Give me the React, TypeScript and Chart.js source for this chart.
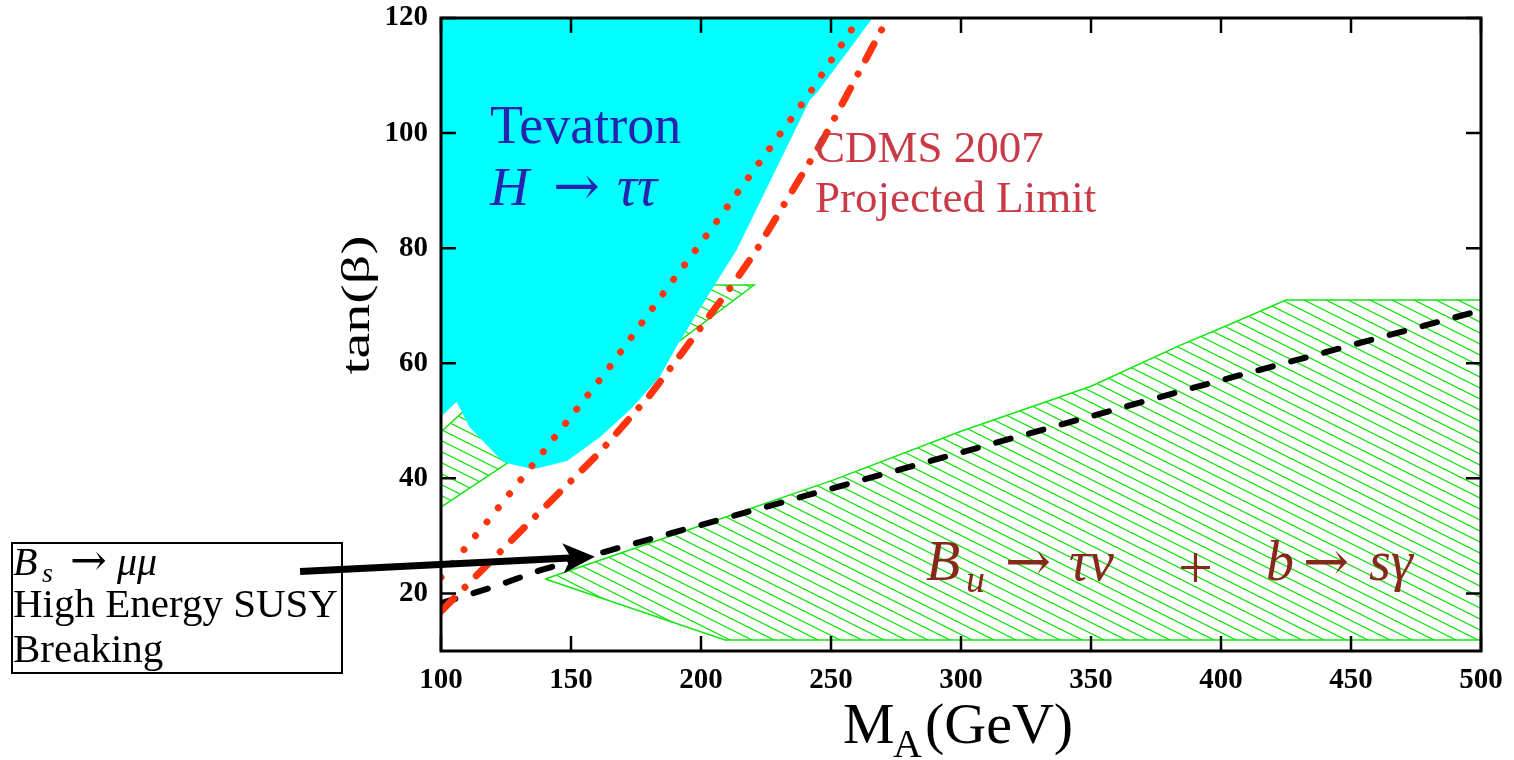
import { useEffect, useRef } from "react";
import { Chart, registerables } from "chart.js";

Chart.register(...registerables);

// Axis ticks
const xTicks = [100, 150, 200, 250, 300, 350, 400, 450, 500];
const yTicks = [20, 40, 60, 80, 100, 120];

// Tevatron H -> tau tau excluded region (closed outline)
const tevX = [100, 266, 244.6, 241.9, 213.7, 206.5, 190.6, 184.2, 173.8, 161.2, 148.5, 135.4, 124, 111, 106, 100, 100];
const tevY = [120, 120, 107.0, 105.8, 79.7, 74.5, 62.9, 57.7, 52.4, 47.2, 43.0, 41.6, 42.8, 48.9, 53.3, 50.7, 120];

// Bu -> tau nu + b -> s gamma allowed band (closed outline)
const buX = [140.1, 200, 250.8, 300, 350, 384.2, 404.6, 425, 500, 500, 209.2, 140.1];
const buY = [22.5, 31.8, 39.7, 48.2, 56.0, 63.1, 67.0, 71.0, 71.0, 11.9, 11.9, 22.5];

// Small low-mass patch of the same band
const patchLeftX = [100, 100, 111, 130, 100];
const patchLeftY = [35.0, 48.1, 52.6, 44.0, 35.0];

// Small patch near M_A = 200 GeV
const patchMidX = [185, 200, 220.4, 185];
const patchMidY = [61.6, 73.6, 73.6, 61.6];

// CDMS 2007 projected limit (dotted)
const cdmsDotX = [100, 117.6, 139.1, 164.3, 188.5, 200.8, 240.8, 260, 260.5];
const cdmsDotY = [22.8, 32.4, 44.5, 59.0, 74.0, 81.4, 106.3, 119.4, 120];

// CDMS 2007 projected limit (dash-dot)
const cdmsDashDotX = [100, 133, 161.2, 180.4, 193, 212.4, 221.4, 246.9, 271.5, 271.9];
const cdmsDashDotY = [16.9, 31.9, 44.6, 54.5, 62.0, 73.8, 79.7, 98.8, 119.7, 120];

// Bs -> mu mu, high energy SUSY breaking (dashed)
const bsX = [100, 120, 138, 165, 389, 500];
const bsY = [18.3, 21.1, 24.0, 27.5, 55.7, 69.2];

// Pointer from the annotation box to the dashed curve
const arrowX = [45.8, 159.2];
const arrowY = [23.8, 26.4];

const SERIF = "'Liberation Serif', 'Times New Roman', serif";
const ARROWFONT = "'DejaVu Serif', 'DejaVu Sans', serif";
const GREEN = "rgb(20,228,20)";
const RED = "rgb(255,52,14)";

const pts = (xs: number[], ys: number[]) => xs.map((x, i) => ({ x, y: ys[i] }));

function makeHatch(): CanvasPattern | string {
  const tile = document.createElement("canvas");
  tile.width = 22;
  tile.height = 11;
  const c = tile.getContext("2d");
  if (!c) return GREEN;
  c.strokeStyle = GREEN;
  c.lineWidth = 1.2;
  for (let k = -2; k <= 2; k++) {
    c.beginPath();
    c.moveTo(-4, -2 + k * 11);
    c.lineTo(26, 13 + k * 11);
    c.stroke();
  }
  const p = c.createPattern(tile, "repeat");
  return p || GREEN;
}

type Run = { t: string; x: number; y: number; font: string };

function drawRuns(ctx: CanvasRenderingContext2D, runs: Run[], color: string) {
  ctx.save();
  ctx.fillStyle = color;
  ctx.textAlign = "left";
  ctx.textBaseline = "alphabetic";
  for (const r of runs) {
    ctx.font = r.font;
    ctx.fillText(r.t, r.x, r.y);
  }
  ctx.restore();
}

const decor = {
  id: "decor",
  afterDatasetsDraw(chart: any) {
    const ctx: CanvasRenderingContext2D = chart.ctx;
    drawRuns(
      ctx,
      [
        { t: "Tevatron", x: 490, y: 143, font: `54px ${SERIF}` },
        { t: "H", x: 490, y: 205, font: `italic 54px ${SERIF}` },
        { t: "→", x: 553, y: 205, font: `56px ${ARROWFONT}` },
        { t: "ττ", x: 617, y: 205, font: `italic 56px ${SERIF}` },
      ],
      "#2424b0"
    );
    drawRuns(
      ctx,
      [
        { t: "CDMS 2007", x: 815, y: 162, font: `45px ${SERIF}` },
        { t: "Projected Limit", x: 815, y: 212, font: `45px ${SERIF}` },
      ],
      "#c93a46"
    );
    drawRuns(
      ctx,
      [
        { t: "B", x: 926, y: 580, font: `italic 56px ${SERIF}` },
        { t: "u", x: 966, y: 592, font: `italic 38px ${SERIF}` },
        { t: "→", x: 1005, y: 580, font: `55px ${ARROWFONT}` },
        { t: "τν", x: 1069, y: 580, font: `italic 56px ${SERIF}` },
        { t: "+", x: 1178, y: 588, font: `62px ${SERIF}` },
        { t: "b", x: 1266, y: 580, font: `italic 56px ${SERIF}` },
        { t: "→", x: 1303, y: 580, font: `55px ${ARROWFONT}` },
        { t: "sγ", x: 1369, y: 580, font: `italic 56px ${SERIF}` },
      ],
      "#86281a"
    );
  },
  afterDraw(chart: any) {
    const ctx: CanvasRenderingContext2D = chart.ctx;
    const { left, right, top, bottom } = chart.chartArea;
    const xs = chart.scales.x;
    const ys = chart.scales.y;

    // frame and inward ticks on all four sides
    ctx.save();
    ctx.strokeStyle = "#000";
    ctx.lineWidth = 2.5;
    ctx.beginPath();
    for (const v of xTicks) {
      const px = xs.getPixelForValue(v);
      ctx.moveTo(px, bottom);
      ctx.lineTo(px, bottom - 15);
      ctx.moveTo(px, top);
      ctx.lineTo(px, top + 15);
    }
    for (const v of yTicks) {
      const py = ys.getPixelForValue(v);
      ctx.moveTo(left, py);
      ctx.lineTo(left + 15, py);
      ctx.moveTo(right, py);
      ctx.lineTo(right - 15, py);
    }
    ctx.stroke();
    ctx.lineWidth = 3;
    ctx.strokeRect(left, top, right - left, bottom - top);
    ctx.restore();

    // axis titles
    ctx.save();
    ctx.fillStyle = "#000";
    ctx.textBaseline = "alphabetic";
    ctx.textAlign = "center";
    ctx.translate(369, 305);
    ctx.rotate(-Math.PI / 2);
    ctx.scale(1.45, 1);
    ctx.font = `40px ${SERIF}`;
    ctx.fillText("tan(β)", 0, 0);
    ctx.restore();
    drawRuns(
      ctx,
      [
        { t: "M", x: 843, y: 743, font: `58px ${SERIF}` },
        { t: "A", x: 893, y: 757, font: `40px ${SERIF}` },
        { t: "(GeV)", x: 925, y: 743, font: `58px ${SERIF}` },
      ],
      "#000"
    );

    // annotation box
    ctx.save();
    ctx.fillStyle = "#fff";
    ctx.fillRect(12, 543, 330, 130);
    ctx.strokeStyle = "#000";
    ctx.lineWidth = 2;
    ctx.strokeRect(12, 543, 330, 130);
    ctx.restore();
    drawRuns(
      ctx,
      [
        { t: "B", x: 13, y: 575, font: `italic 40px ${SERIF}` },
        { t: "s", x: 42, y: 582, font: `italic 28px ${SERIF}` },
        { t: "→", x: 70, y: 575, font: `44px ${ARROWFONT}` },
        { t: "μμ", x: 117, y: 575, font: `italic 40px ${SERIF}` },
        { t: "High Energy SUSY", x: 13, y: 617, font: `41px ${SERIF}` },
        { t: "Breaking", x: 13, y: 662, font: `41px ${SERIF}` },
      ],
      "#000"
    );

    // pointer arrow
    const x0 = xs.getPixelForValue(arrowX[0]);
    const y0 = ys.getPixelForValue(arrowY[0]);
    const x1 = xs.getPixelForValue(arrowX[1]);
    const y1 = ys.getPixelForValue(arrowY[1]);
    const ang = Math.atan2(y1 - y0, x1 - x0);
    const ux = Math.cos(ang);
    const uy = Math.sin(ang);
    const headLen = 32;
    const halfW = 15;
    const bx = x1 - ux * headLen;
    const by = y1 - uy * headLen;
    ctx.save();
    ctx.strokeStyle = "#000";
    ctx.fillStyle = "#000";
    ctx.lineWidth = 7;
    ctx.beginPath();
    ctx.moveTo(x0, y0);
    ctx.lineTo(x1 - ux * 20, y1 - uy * 20);
    ctx.stroke();
    ctx.beginPath();
    ctx.moveTo(x1, y1);
    ctx.lineTo(bx - uy * halfW, by + ux * halfW);
    ctx.lineTo(x1 - ux * 24, y1 - uy * 24);
    ctx.lineTo(bx + uy * halfW, by - ux * halfW);
    ctx.closePath();
    ctx.fill();
    ctx.restore();
  },
};

export default function App() {
  const ref = useRef<HTMLCanvasElement | null>(null);

  useEffect(() => {
    const canvas = ref.current;
    if (!canvas) return;
    const hatch = makeHatch();
    const tickFont = { family: SERIF, size: 29, weight: "bold" as const };

    const chart = new Chart(canvas, {
      type: "line",
      data: {
        datasets: [
          {
            label: "Bu",
            data: pts(buX, buY),
            fill: "shape",
            backgroundColor: hatch as any,
            borderColor: GREEN,
            borderWidth: 1.5,
            order: 6,
          },
          {
            label: "patch-left",
            data: pts(patchLeftX, patchLeftY),
            fill: "shape",
            backgroundColor: hatch as any,
            borderColor: GREEN,
            borderWidth: 1.5,
            order: 5,
          },
          {
            label: "patch-mid",
            data: pts(patchMidX, patchMidY),
            fill: "shape",
            backgroundColor: hatch as any,
            borderColor: GREEN,
            borderWidth: 1.5,
            order: 5,
          },
          {
            label: "Tevatron",
            data: pts(tevX, tevY),
            fill: "shape",
            backgroundColor: "#00ffff",
            borderColor: "#00ffff",
            borderWidth: 0,
            order: 4,
          },
          {
            label: "Bs",
            data: pts(bsX, bsY),
            fill: false,
            borderColor: "#000",
            borderWidth: 6,
            borderDash: [15, 19],
            borderCapStyle: "round",
            order: 3,
          },
          {
            label: "CDMS dash-dot",
            data: pts(cdmsDashDotX, cdmsDashDotY),
            fill: false,
            borderColor: RED,
            borderWidth: 7,
            borderDash: [18, 16, 0.01, 16],
            borderCapStyle: "round",
            order: 2,
          },
          {
            label: "CDMS dotted",
            data: pts(cdmsDotX, cdmsDotY),
            fill: false,
            borderColor: RED,
            borderWidth: 7,
            borderDash: [0.01, 18],
            borderCapStyle: "round",
            order: 1,
          },
        ],
      },
      options: {
        animation: false,
        responsive: false,
        devicePixelRatio: 1,
        layout: { padding: { left: 0, right: 33, top: 18, bottom: 0 } },
        elements: { point: { radius: 0, hoverRadius: 0 }, line: { tension: 0 } },
        plugins: { legend: { display: false }, tooltip: { enabled: false } },
        events: [],
        scales: {
          x: {
            type: "linear",
            min: 100,
            max: 500,
            afterBuildTicks: (s: any) => {
              s.ticks = xTicks.map((v) => ({ value: v }));
            },
            afterFit: (s: any) => {
              s.height = 109;
              s.paddingLeft = 0;
              s.paddingRight = 0;
            },
            grid: { display: false, drawTicks: false },
            border: { display: false },
            ticks: { font: tickFont, color: "#000", padding: 12, maxRotation: 0, autoSkip: false },
          },
          y: {
            type: "linear",
            min: 10,
            max: 120,
            afterBuildTicks: (s: any) => {
              s.ticks = yTicks.map((v) => ({ value: v }));
            },
            afterFit: (s: any) => {
              s.width = 441;
              s.paddingTop = 0;
              s.paddingBottom = 0;
            },
            grid: { display: false, drawTicks: false },
            border: { display: false },
            ticks: { font: tickFont, color: "#000", padding: 13, autoSkip: false },
          },
        },
      } as any,
      plugins: [decor],
    });
    return () => chart.destroy();
  }, []);

  return (
    <div style={{ position: "absolute", left: 0, top: 0, width: 1514, height: 760, background: "#fff" }}>
      <canvas ref={ref} width={1514} height={760} style={{ display: "block" }} />
    </div>
  );
}
